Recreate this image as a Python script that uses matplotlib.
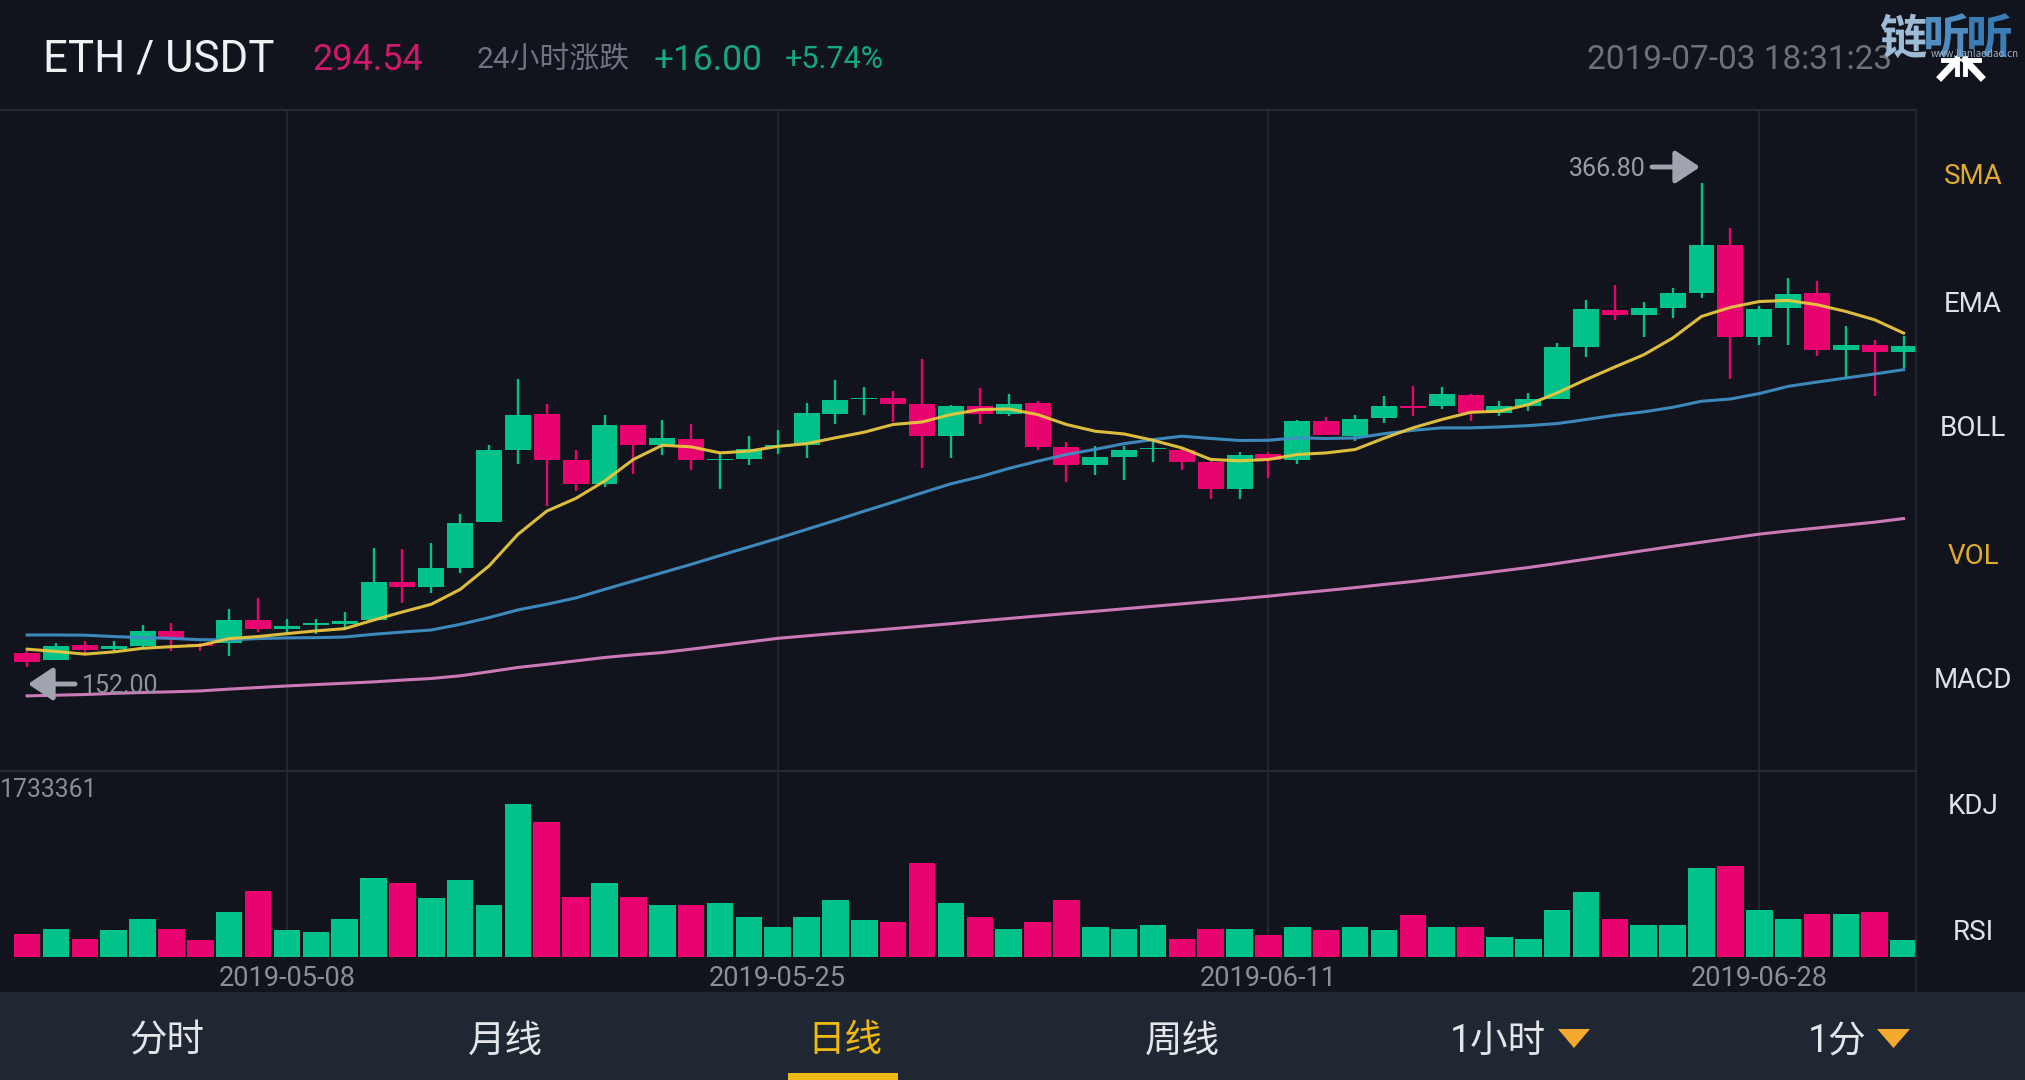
import matplotlib
matplotlib.use('Agg')
import matplotlib.pyplot as plt
from matplotlib.lines import Line2D
from matplotlib.patches import Rectangle, Polygon

# ETH/USDT daily candles, 2019-04-29 .. 2019-07-03 (one row per day)
opens = [158.1, 155.0, 161.7, 160.0, 161.4, 167.9, 162.2, 162.9, 172.8, 168.8, 170.9, 171.0,
         172.95, 189.9, 187.7, 196.1, 216.3, 248.2, 264.4, 243.9, 233.4, 259.3, 250.4, 253.2,
         243.9, 244.5, 249.8, 250.3, 264.4, 270.9, 271.2, 268.9, 254.7, 267.7, 264.4, 269.1,
         249.7, 241.6, 245.2, 248.6, 248.5, 242.9, 230.8, 246.6, 243.8, 261.0, 254.5, 262.5,
         267.7, 267.7, 272.8, 264.7, 267.7, 271.1, 293.9, 310.2, 308.2, 311.2, 317.8, 339.2,
         298.4, 311.2, 317.8, 292.8, 295.0, 291.7]
highs = [159.2, 162.6, 163.7, 163.7, 170.6, 171.5, 162.9, 178.0, 182.5, 173.2, 173.5, 176.6,
         205.0, 204.2, 206.9, 219.7, 250.4, 279.8, 268.7, 248.2, 263.8, 259.3, 261.8, 260.0,
         246.3, 254.4, 257.3, 269.1, 279.5, 276.1, 274.3, 288.6, 268.4, 275.8, 273.3, 269.9,
         251.7, 249.9, 249.9, 252.2, 249.2, 243.3, 247.3, 247.3, 261.8, 262.9, 264.0, 272.1,
         276.8, 276.1, 273.1, 269.9, 273.6, 295.7, 314.6, 321.5, 314.1, 320.0, 366.8, 346.6,
         311.9, 324.5, 323.4, 303.4, 297.2, 298.9]
lows = [152.0, 155.0, 157.8, 159.2, 160.7, 159.2, 159.2, 157.0, 167.6, 166.6, 166.9, 169.6,
        172.5, 180.6, 185.1, 193.9, 216.3, 241.9, 223.4, 230.3, 231.8, 237.7, 246.0, 239.6,
        231.2, 241.6, 246.6, 244.8, 260.0, 264.0, 260.6, 240.1, 244.8, 260.0, 263.2, 248.2,
        234.0, 237.1, 234.8, 243.0, 239.6, 226.4, 226.6, 235.9, 242.3, 254.8, 252.2, 260.3,
        263.2, 266.5, 261.0, 263.5, 265.4, 271.1, 289.5, 305.7, 298.4, 306.8, 315.6, 279.8,
        295.0, 295.0, 290.1, 280.2, 272.1, 284.6]
closes = [154.5, 161.4, 159.7, 161.4, 168.1, 164.4, 161.4, 172.8, 169.1, 170.4, 171.2, 172.7,
          189.9, 187.7, 195.8, 216.0, 248.2, 263.8, 243.8, 233.4, 259.4, 250.4, 253.4, 243.8,
          244.4, 248.8, 250.3, 264.6, 270.6, 271.2, 268.7, 254.7, 268.0, 264.4, 268.9, 249.7,
          241.6, 245.2, 248.2, 248.9, 242.9, 230.8, 246.0, 244.0, 261.0, 254.8, 262.2, 267.7,
          267.1, 273.3, 264.7, 267.7, 271.1, 293.8, 310.7, 308.1, 311.2, 317.8, 339.2, 298.4,
          310.9, 317.5, 292.8, 295.0, 291.7, 294.5]

sma_fast = [160.0, 159.0, 157.8, 158.8, 160.4, 161.1, 161.7, 164.7, 165.6, 166.9, 168.1, 169.1,
            172.9, 176.5, 179.9, 186.5, 196.9, 210.9, 221.2, 226.8, 234.5, 244.1, 250.4, 249.7,
            247.0, 247.8, 249.9, 251.1, 253.7, 256.2, 259.6, 260.7, 264.0, 266.2, 266.5, 264.0,
            259.6, 256.6, 255.4, 252.6, 249.2, 244.1, 243.5, 244.1, 246.3, 247.0, 248.5, 253.5,
            258.1, 261.8, 265.0, 265.5, 268.4, 273.6, 279.5, 285.1, 290.5, 297.9, 307.5, 311.5,
            314.1, 314.6, 312.7, 309.7, 306.0, 300.1]
sma_mid = [166.3, 166.3, 166.2, 165.6, 165.1, 164.8, 164.2, 164.1, 164.7, 165.0, 165.1, 165.4,
           166.6, 167.6, 168.5, 171.0, 174.0, 177.4, 179.9, 182.7, 186.5, 190.2, 193.9, 197.6,
           201.5, 205.3, 209.1, 213.1, 217.1, 221.2, 225.2, 229.3, 233.3, 236.4, 240.1, 243.3,
           246.3, 248.6, 251.1, 252.9, 254.4, 253.4, 252.5, 252.6, 253.7, 253.4, 253.6, 255.5,
           257.0, 258.1, 258.1, 258.5, 259.1, 260.0, 261.8, 263.7, 265.2, 267.2, 269.9, 270.9,
           273.3, 276.5, 278.4, 280.2, 282.0, 283.9]
sma_slow = [139.3, 139.6, 139.9, 140.4, 140.8, 141.1, 141.5, 142.3, 143.0, 143.7, 144.3, 144.9,
            145.5, 146.3, 147.0, 148.2, 150.0, 151.9, 153.3, 154.8, 156.3, 157.5, 158.5, 160.0,
            161.6, 163.2, 164.8, 165.9, 167.0, 168.0, 169.1, 170.2, 171.3, 172.5, 173.6, 174.7,
            175.8, 176.8, 177.9, 179.0, 180.1, 181.2, 182.3, 183.5, 184.8, 186.0, 187.3, 188.7,
            190.0, 191.5, 193.0, 194.6, 196.2, 198.0, 199.9, 201.8, 203.7, 205.6, 207.4, 209.2,
            211.0, 212.4, 213.7, 215.0, 216.3, 217.9]

volumes = [257, 313, 200, 302, 427, 321, 189, 510, 744, 302, 283, 434, 895, 838, 672, 868, 589,
           1733, 1529, 680, 834, 676, 589, 589, 608, 453, 340, 453, 642, 415, 393, 1065, 608,
           453, 313, 396, 642, 340, 313, 359, 204, 321, 321, 245, 340, 310, 340, 302, 472, 340,
           340, 227, 208, 529, 733, 427, 359, 359, 1012, 1031, 536, 434, 491, 491, 506, 196]
# red/green of the volume bars does not always follow the candle, so it is kept apart
vol_up = [0, 1, 0, 1, 1, 0, 0, 1, 0, 1, 1, 1, 1, 0, 1, 1, 1, 1, 0, 0, 1, 0, 1, 0, 1, 1, 1, 1,
          1, 1, 0, 0, 1, 0, 1, 0, 0, 1, 1, 1, 0, 0, 1, 0, 1, 0, 1, 1, 0, 1, 0, 1, 1, 1, 1, 0,
          1, 1, 1, 0, 1, 1, 0, 1, 0, 1]

date_pos = [9, 26, 43, 60]
date_labels = ['2019-05-08', '2019-05-25', '2019-06-11', '2019-06-28']
side_labels = ['SMA', 'EMA', 'BOLL', 'VOL', 'MACD', 'KDJ', 'RSI']
side_active = ['SMA', 'VOL']
tabs = ['分时', '月线', '日线', '周线']

BG = '#11141c'
BAR = '#1f2732'
RULE = '#272a32'
GREEN = '#02c289'
RED = '#e8046f'
GOLD = '#e0aa2e'

W, H = 2025, 1080
plt.rcParams['font.family'] = ['Roboto', 'Noto Sans CJK SC', 'DejaVu Sans']

fig = plt.figure(figsize=(W / 100, H / 100), dpi=100, facecolor=BG)


def label(x, y, s, size, color, ha='center', **kw):
    # y + 3: va='center' sits a little high for these fonts
    fig.text(x / W, 1 - (y + 3) / H, s, fontsize=size, color=color, ha=ha, va='center', **kw)


def panel(top, bottom, right=1916):
    return fig.add_axes([0, 1 - bottom / H, right / W, (bottom - top) / H], facecolor=BG)


# bottom tab strip
fig.add_artist(Rectangle((0, 0), 1, 88 / H, transform=fig.transFigure, color=BAR, lw=0))

# candles
ax = panel(110, 771)
days = range(len(opens))
for i in days:
    col = GREEN if closes[i] >= opens[i] else RED
    ax.vlines(i, lows[i], highs[i], color=col, lw=1.7, zorder=2)
    ax.bar(i, max(abs(closes[i] - opens[i]), 0.5), bottom=min(opens[i], closes[i]), width=0.9,
           color=col, zorder=2)
ax.plot(days, sma_slow, color='#d67fc2', lw=2.2, alpha=0.95, zorder=3)
ax.plot(days, sma_mid, color='#3f8fc4', lw=2.2, alpha=0.95, zorder=3)
ax.plot(days, sma_fast, color='#e8c63f', lw=2.2, alpha=0.95, zorder=3)
ax.set_xlim(-0.94, 65.43)
ax.set_ylim(106.0, 399.0)
ax.set_xticks(date_pos)
ax.set_yticks([])
ax.set_xticklabels([])
ax.tick_params(length=0)
ax.grid(axis='x', color=RULE, lw=1.2, zorder=1)

# volume
ax2 = panel(771, 992)
ax2.bar(days, [v * 1000 for v in volumes], width=0.92,
        color=[GREEN if u else RED for u in vol_up], zorder=2)
ax2.set_xlim(-0.94, 65.43)
ax2.set_ylim(-396500, 2107000)
ax2.set_yticks([])
ax2.set_xticks(date_pos)
ax2.set_xticklabels(date_labels, fontsize=19.5, color='#8c8f98')
ax2.tick_params(length=0, pad=-19.5)
for d in date_pos:
    ax2.axvline(d, ymin=0.158, color=RULE, lw=1.2, zorder=1)

for a in (ax, ax2):
    for side in ('left', 'bottom', 'right'):
        a.spines[side].set_visible(False)
    a.spines['top'].set_color(RULE)
    a.spines['top'].set_linewidth(1.5)
fig.add_artist(Line2D([1916 / W] * 2, [1 - 992 / H, 1 - 110 / H], color=RULE, lw=1.2))

# high / low markers
arrow = dict(arrowstyle='-|>,head_length=0.75,head_width=0.5', color='#a0a4af', lw=3.5,
             mutation_scale=20, shrinkA=0, shrinkB=0)
ax.annotate('', xy=(1700, H - 167), xytext=(1652, H - 167), xycoords='figure pixels',
            textcoords='figure pixels', arrowprops=arrow)
ax.annotate('', xy=(28, H - 684), xytext=(75, H - 684), xycoords='figure pixels',
            textcoords='figure pixels', arrowprops=arrow)
label(1646, 166, '366.80', 18, '#9a9da8', ha='right')
label(82, 683, '152.00', 18, '#8f929c', ha='left')
label(0, 787, '1733361', 17.8, '#8a8d96', ha='left')

# header
label(43, 57, 'ETH / USDT', 31.5, '#f0f1f3', ha='left')
label(312, 57, '294.54', 26, '#d0186c', ha='left')
label(477, 57, '24小时涨跌', 21.5, '#6f7280', ha='left')
label(654, 57, '+16.00', 25.5, '#14a87a', ha='left')
label(785, 57, '+5.74%', 22, '#14a87a', ha='left')
label(1587, 57, '2019-07-03 18:31:23', 24, '#6d7079', ha='left')

# collapse icon under the watermark
for x0, x1, y0, y1 in [(1941, 1957, 77, 60), (1981, 1965, 77, 60)]:
    fig.add_artist(Line2D([x0 / W, x1 / W], [1 - y0 / H, 1 - y1 / H], color='white', lw=5))
    fig.add_artist(Line2D([x1 / W, x1 / W], [1 - (y1 + 14) / H, 1 - (y1 - 2) / H], color='white', lw=3.5))
    fig.add_artist(Line2D([(x1 + (x0 - x1) * 0.85) / W, x1 / W], [1 - y1 / H] * 2, color='white', lw=3.5))

# watermark, lighter on the left like the original
wm_family = ['Noto Sans CJK SC', 'DejaVu Sans']
for s, x, c in zip('链听听', [1903, 1947, 1990], ['#9dbbd4', '#4f8cc0', '#3a7cb6']):
    label(x, 37, s, 34, c, family=wm_family, weight='black')
label(1975, 51, 'www.lianlaodao.cn', 7, '#9fb4c8', family=wm_family)

# right side indicator list
side_y = [174, 301, 426, 553, 678, 803, 930]
for name, y in zip(side_labels, side_y):
    label(1973, y, name, 20, GOLD if name in side_active else '#dfe1e6')

# tabs
tab_x = [167, 505, 845, 1182]
for name, x in zip(tabs, tab_x):
    label(x, 1038, name, 27, '#efb80f' if name == '日线' else '#e4e6ea')
label(1498, 1038, '1小时', 27, '#e4e6ea')
label(1837, 1038, '1分', 27, '#e4e6ea')
fig.add_artist(Rectangle((788 / W, 0), 110 / W, 7 / H, transform=fig.transFigure,
                         color='#efb80f', lw=0))
for x0, x1 in [(1558, 1590), (1877, 1910)]:
    fig.add_artist(Polygon([(x0 / W, 1 - 1029 / H), (x1 / W, 1 - 1029 / H),
                            ((x0 + x1) / 2 / W, 1 - 1048 / H)],
                           transform=fig.transFigure, color='#f5a82e', lw=0))

fig.savefig('out.png', dpi=100, facecolor=BG)
